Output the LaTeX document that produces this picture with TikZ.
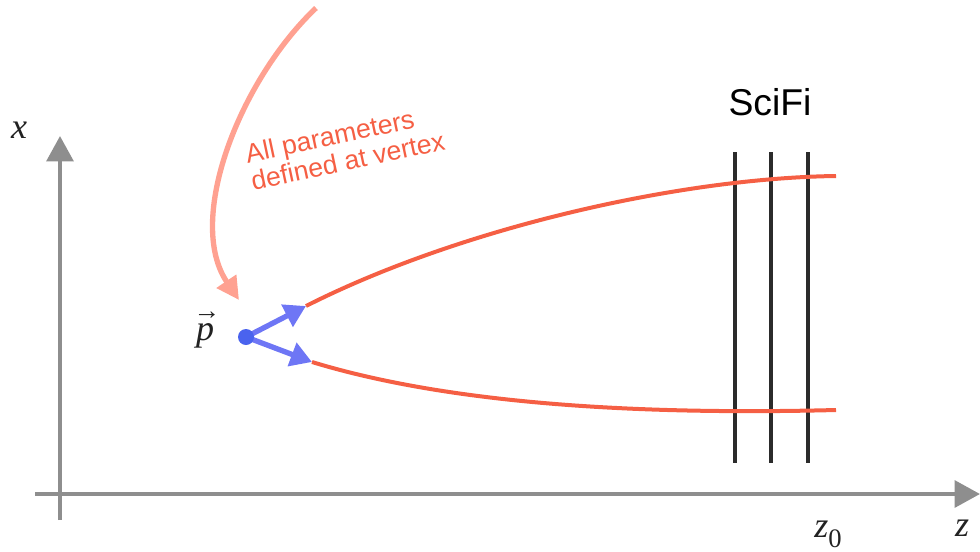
\documentclass[tikz,border=0pt]{standalone}
\usepackage{fontspec}
\setmainfont{Liberation Serif}
\newfontfamily\labelfont{Liberation Sans}
\usetikzlibrary{arrows.meta}
\definecolor{axisgray}{HTML}{8E8E8E}
\definecolor{trackred}{HTML}{F55F44}
\definecolor{salmon}{HTML}{FFA191}
\definecolor{vblue}{HTML}{4A63EE}
\definecolor{ablue}{HTML}{6E76F5}
\definecolor{detblack}{HTML}{2B2B2B}
\definecolor{labelblack}{HTML}{222222}
\tikzset{
  axis/.style={draw=axisgray, line width=3pt, -{Triangle[length=19pt,width=20pt]}},
  track/.style={draw=trackred, line width=3pt},
  layer/.style={draw=detblack, line width=3pt},
  momarrow/.style={draw=ablue, line width=4pt, -{Triangle[length=16pt,width=18pt]}},
  note/.style={text=trackred, font=\labelfont\fontsize{20}{21}\selectfont, align=left},
  varlabel/.style={text=labelblack, font=\itshape\fontsize{27}{28}\selectfont, inner sep=0pt},
}
\begin{document}
\begin{tikzpicture}[x=0.75pt,y=-0.75pt]
\useasboundingbox (0,0) rectangle (980,551);
% axes
\coordinate (zs) at (35,494);
\coordinate (ze) at (980,494);
\coordinate (xs) at (60,520);
\coordinate (xe) at (60,136);
\draw[axis] (xs) -- (xe);
\draw[axis] (zs) -- (ze);
\node[varlabel] (xl) at (19,130) {x};
\node[varlabel] (zl) at (962,528) {z};
\node[varlabel] (z0l) at (828,534) {z\raisebox{-0.28em}{\upshape\fontsize{20}{20}\selectfont 0}};
% SciFi layers
\foreach \i/\xx in {1/735,2/771,3/808}{
  \coordinate (t\i) at (\xx,152);
  \coordinate (b\i) at (\xx,463);
  \draw[layer] (t\i) -- (b\i);
}
\node[font=\labelfont\fontsize{28}{30}\selectfont] (scifi) at (770,102) {SciFi};
% vertex
\coordinate (v) at (246,337);
\coordinate (u0) at (306,306);
\coordinate (l0) at (312,362);
\coordinate (u1) at (836,176);
\coordinate (l1) at (836,410);
\draw[track] (u0) .. controls (460,228) and (680,178) .. (u1);
\draw[track] (l0) .. controls (430,398) and (600,416) .. (l1);
\draw[momarrow] (v) -- (u0);
\draw[momarrow] (v) -- (l0);
\fill[vblue] (v) circle (8);
\node[varlabel] (pl) at (205,336) {p};
\node[text=labelblack, font=\fontsize{20}{20}\selectfont, inner sep=0pt] (parrow) at (207,316) {→};
% annotation arrow
\coordinate (as) at (316,8);
\coordinate (ae) at (239,300);
\draw[draw=salmon, line width=4pt, -{Triangle[length=17pt,width=17pt]}] (as) .. controls (240,80) and (185,220) .. (ae);
\node[note, rotate=12] (txt) at (345,147) {All parameters\\defined at vertex};
\end{tikzpicture}
\end{document}
